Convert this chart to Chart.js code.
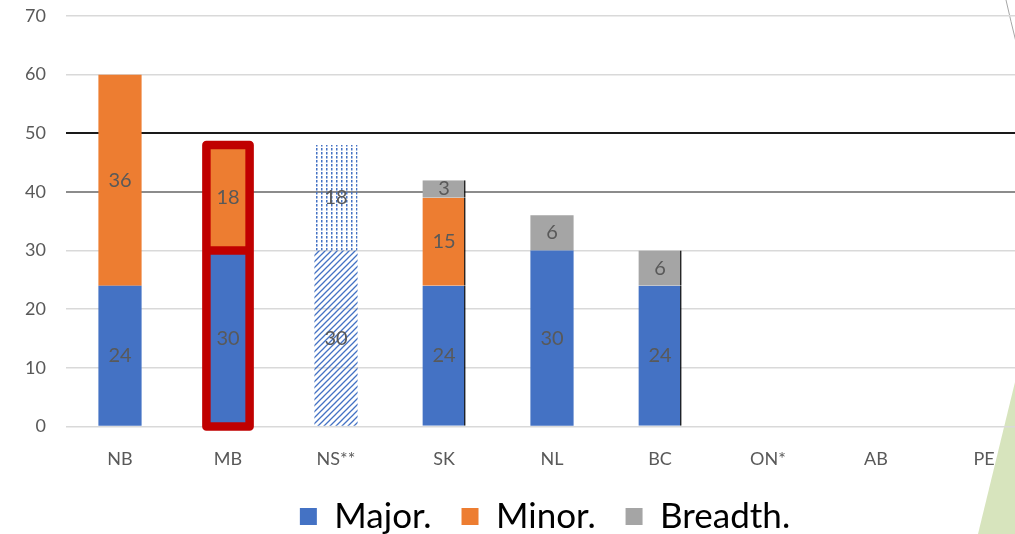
<!DOCTYPE html>
<html>
<head>
<meta charset="utf-8">
<script src="https://cdn.jsdelivr.net/npm/chart.js@4"></script>
<style>
  html, body { margin: 0; padding: 0; background: #fff; overflow: hidden; }
  canvas { display: block; }
</style>
</head>
<body>
<canvas id="provChart" width="1090" height="534"></canvas>
<script>
// provinces and the three stacked parts
const categories = ['NB', 'MB', 'NS**', 'SK', 'NL', 'BC', 'ON*', 'AB', 'PE'];
const majorValues = [24, 30, 30, 24, 30, 24, 0, 0, 0];
const minorValues = [36, 18, 18, 15, 0, 0, 0, 0, 0];
const breadthValues = [0, 0, 0, 3, 6, 6, 0, 0, 0];
const seriesNames = ['Major.', 'Minor.', 'Breadth.'];
const yMin = 0, yMax = 70, yStep = 10;

const BLUE = '#4472c4', ORANGE = '#ed7d31', GREY = '#a5a5a5', TXT = '#595959';
const NS = 2, MB = 1;

// NS** uses patterns instead of solid fill
function hatchPattern() {
  const c = document.createElement('canvas');
  c.width = 6; c.height = 6;
  const g = c.getContext('2d');
  g.strokeStyle = BLUE;
  g.lineWidth = 1.3;
  g.beginPath();
  g.moveTo(0, 6); g.lineTo(6, 0);
  g.moveTo(-3, 3); g.lineTo(3, -3);
  g.moveTo(3, 9); g.lineTo(9, 3);
  g.stroke();
  return g.createPattern(c, 'repeat');
}
function dotPattern() {
  const c = document.createElement('canvas');
  c.width = 5; c.height = 4;
  const g = c.getContext('2d');
  g.fillStyle = BLUE;
  g.fillRect(1, 0, 1.5, 2.5);
  return g.createPattern(c, 'repeat');
}
const hatch = hatchPattern();
const dots = dotPattern();

function fills(solid, pattern) {
  return categories.map((c, i) => i === NS ? pattern : solid);
}
// thin dark edge on the right side of SK and BC
function edge(ctx) {
  return (ctx.dataIndex === 3 || ctx.dataIndex === 5) ? { right: 1.5 } : 0;
}

const decor = {
  id: 'decor',
  beforeDraw(chart) {
    // nudge the legend so it sits where the slide had it
    if (!chart.$legendMoved) {
      chart.legend.left += 26;
      chart.legend.right += 26;
      chart.$legendMoved = true;
    }
    const g = chart.ctx;
    g.save();
    g.fillStyle = '#d7e4bd';
    g.beginPath();
    g.moveTo(978, 534); g.lineTo(1016, 378); g.lineTo(1016, 534);
    g.closePath(); g.fill();
    g.strokeStyle = '#a6a6a6';
    g.lineWidth = 1;
    g.beginPath();
    g.moveTo(1006, 0);
    g.quadraticCurveTo(1011, 22, 1016, 42);
    g.stroke();
    g.restore();
  },
  afterDatasetsDraw(chart) {
    const g = chart.ctx;
    const y = chart.scales.y;
    // red frame around the MB stack
    const el = chart.getDatasetMeta(0).data[MB];
    const w = el.width;
    const total = majorValues[MB] + minorValues[MB] + breadthValues[MB];
    const top = y.getPixelForValue(total);
    const bot = y.getPixelForValue(0);
    const mid = y.getPixelForValue(majorValues[MB]);
    g.save();
    g.strokeStyle = '#c00000';
    g.lineWidth = 8.5;
    g.lineJoin = 'round';
    g.strokeRect(el.x - w / 2, top, w, bot - top);
    g.beginPath();
    g.moveTo(el.x - w / 2, mid); g.lineTo(el.x + w / 2, mid);
    g.stroke();
    g.restore();
    // value labels
    g.save();
    g.fillStyle = TXT;
    g.font = '20px Lato';
    g.textAlign = 'center';
    g.textBaseline = 'middle';
    chart.data.datasets.forEach((ds, di) => {
      chart.getDatasetMeta(di).data.forEach((bar, i) => {
        const v = ds.data[i];
        if (!v) return;
        g.fillText(String(v), bar.x, (bar.y + bar.base) / 2);
      });
    });
    g.restore();
  }
};

new Chart(document.getElementById('provChart'), {
  type: 'bar',
  data: {
    labels: categories,
    datasets: [
      { label: seriesNames[0], data: majorValues, backgroundColor: fills(BLUE, hatch), borderColor: '#000', borderWidth: edge, borderSkipped: false },
      { label: seriesNames[1], data: minorValues, backgroundColor: fills(ORANGE, dots), borderColor: '#000', borderWidth: edge, borderSkipped: false },
      { label: seriesNames[2], data: breadthValues, backgroundColor: GREY, borderColor: '#000', borderWidth: edge, borderSkipped: false }
    ]
  },
  options: {
    responsive: false,
    animation: false,
    barPercentage: 0.8,
    categoryPercentage: 0.5,
    layout: { padding: { left: 0, right: 52, top: 16, bottom: -10 } },
    plugins: {
      tooltip: { enabled: false },
      legend: {
        position: 'bottom',
        labels: {
          color: TXT,
          font: { family: 'Lato', size: 35 },
          boxWidth: 17,
          boxHeight: 17,
          padding: 12,
          generateLabels() {
            return seriesNames.map((n, i) => ({
              text: i < seriesNames.length - 1 ? n + '  ' : n,
              fillStyle: [BLUE, ORANGE, GREY][i],
              strokeStyle: '#333',
              lineWidth: 0,
              datasetIndex: i
            }));
          }
        }
      }
    },
    scales: {
      x: {
        stacked: true,
        afterFit(s) { s.height = 60.6; },
        grid: { display: false, drawTicks: false },
        border: { display: false },
        ticks: { color: TXT, font: { family: 'Lato', size: 18 }, padding: 22 }
      },
      y: {
        stacked: true,
        min: yMin,
        max: yMax,
        afterFit(s) { s.width = 66; s.paddingTop = 0; s.paddingBottom = 0; },
        border: { display: false },
        grid: {
          drawTicks: false,
          color: c => c.tick.value === 50 ? '#1a1a1a' : (c.tick.value === 40 ? '#8c8c8c' : '#d9d9d9'),
          lineWidth: c => (c.tick.value === 50 || c.tick.value === 40) ? 2 : 1.5
        },
        ticks: { stepSize: yStep, color: TXT, font: { family: 'Lato', size: 18 }, padding: 20 }
      }
    }
  },
  plugins: [decor]
});
</script>
</body>
</html>
